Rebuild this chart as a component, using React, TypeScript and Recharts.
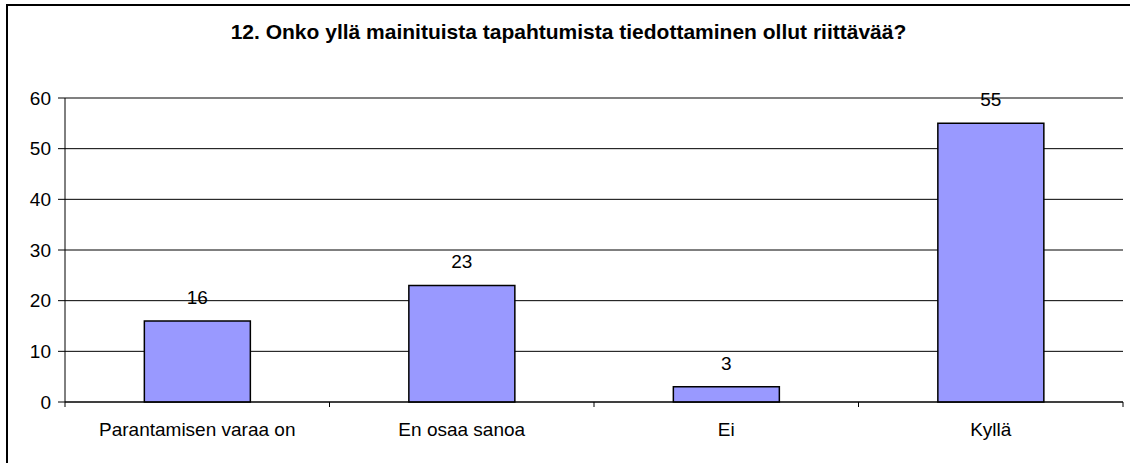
import { Bar, BarChart, CartesianGrid, LabelList, ReferenceLine, XAxis, YAxis } from "recharts";

const vastaukset = ["Parantamisen varaa on", "En osaa sanoa", "Ei", "Kyllä"];
const maarat = [16, 23, 3, 55];
const yTicks = [0, 10, 20, 30, 40, 50, 60];

const data = vastaukset.map((vastaus, i) => ({ vastaus, maara: maarat[i] }));

const font = "'Liberation Sans', Arial, sans-serif";

function CategoryTick(props: any) {
  const { x, y, payload, width, index } = props;
  const step = width / vastaukset.length;
  const last = index === vastaukset.length - 1;
  return (
    <g>
      <line x1={x - step / 2} y1={y - 23} x2={x - step / 2} y2={y - 18} stroke="#000" />
      {last ? <line x1={x + step / 2} y1={y - 23} x2={x + step / 2} y2={y - 18} stroke="#000" /> : null}
      <text x={x} y={y} dy={11} textAnchor="middle" fill="#000" fontSize={19} fontFamily={font}>
        {payload.value}
      </text>
    </g>
  );
}

export default function App() {
  return (
    <div style={{ position: "fixed", left: 0, top: 0, width: 1130, height: 463, background: "#fff", overflow: "hidden" }}>
      <div
        style={{
          position: "absolute",
          left: 6,
          top: 4,
          width: 1140,
          height: 480,
          borderLeft: "2px solid #000",
          borderTop: "2px solid #000",
        }}
      />
      <div
        style={{
          position: "absolute",
          left: 0,
          width: 1137,
          top: 20,
          textAlign: "center",
          fontFamily: font,
          fontWeight: "bold",
          fontSize: 21,
          lineHeight: "24px",
          color: "#000",
        }}
      >
        12. Onko yllä mainituista tapahtumista tiedottaminen ollut riittävää?
      </div>
      <div style={{ position: "absolute", left: 0, top: 0 }}>
        <BarChart
          width={1130}
          height={463}
          data={data}
          margin={{ top: 98, right: 7, bottom: 31, left: 8 }}
          barCategoryGap="30%"
        >
          <CartesianGrid horizontal vertical={false} stroke="#000" strokeOpacity={1} />
          <XAxis
            dataKey="vastaus"
            height={30}
            tickLine={false}
            tickSize={0}
            tickMargin={23}
            axisLine={{ stroke: "#000" }}
            tick={<CategoryTick />}
            interval={0}
          />
          <YAxis
            width={57}
            domain={[0, 60]}
            ticks={yTicks}
            tickSize={7}
            tickMargin={7}
            axisLine={{ stroke: "#000" }}
            tickLine={{ stroke: "#000" }}
            tick={{ fill: "#000", fontSize: 19, fontFamily: font }}
          />
          <YAxis
            yAxisId="reuna"
            orientation="right"
            width={0}
            domain={[0, 60]}
            tick={false}
            tickLine={false}
            axisLine={{ stroke: "#808080", strokeWidth: 2 }}
          />
          <ReferenceLine y={60} stroke="#808080" strokeWidth={2} />
          <Bar dataKey="maara" fill="#9999FF" stroke="#000" strokeWidth={1.5} isAnimationActive={false}>
            <LabelList dataKey="maara" position="top" offset={17} fill="#000" fontSize={19} fontFamily={font} />
          </Bar>
        </BarChart>
      </div>
    </div>
  );
}
